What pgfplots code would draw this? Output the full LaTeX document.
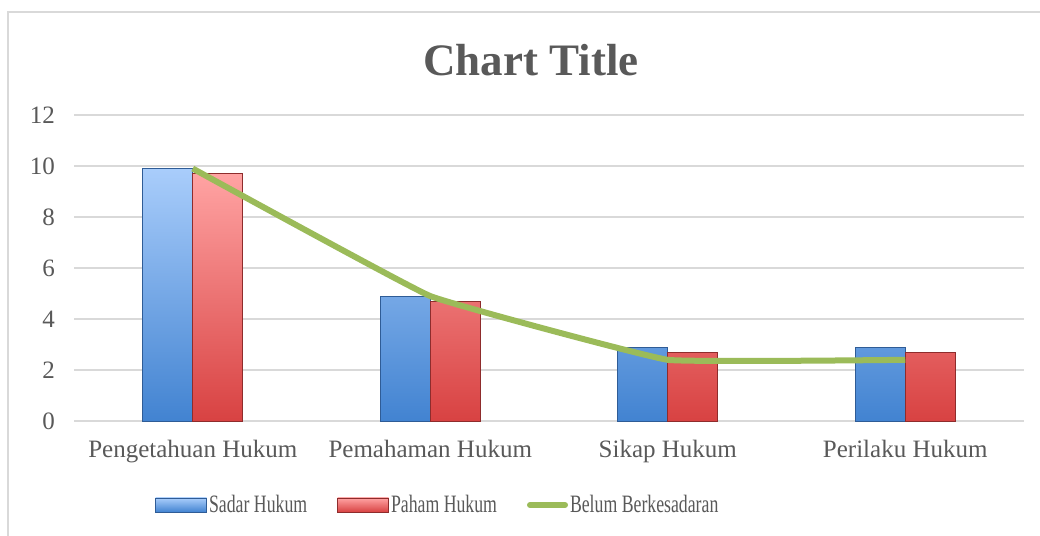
\documentclass[border=0pt]{standalone}
\usepackage{pgfplots}
\pgfplotsset{compat=1.18}
\usepackage{fontspec}
\setmainfont{Liberation Serif}
\definecolor{txt}{HTML}{595959}
\definecolor{gridc}{HTML}{D9D9D9}
\definecolor{bluet}{HTML}{A9CDFB}
\definecolor{blueb}{HTML}{4283D1}
\definecolor{bluee}{HTML}{2F5C96}
\definecolor{redt}{HTML}{FFA3A3}
\definecolor{redb}{HTML}{D84242}
\definecolor{rede}{HTML}{8E2C2C}
\definecolor{grn}{HTML}{9BBB59}
\begin{document}
\begin{tikzpicture}
\path[use as bounding box] (0,0) rectangle (520pt,268pt);
\draw[gridc, line width=0.8pt] (4pt,0pt) -- (4pt,262pt) -- (520pt,262pt);
\node[font=\bfseries\fontsize{22.5}{26}\selectfont, text=txt] at (265.5pt,238pt) {Chart Title};
\begin{axis}[
  at={(37pt,57.5pt)}, anchor=south west,
  scale only axis, width=475pt, height=153pt,
  xmin=-0.5, xmax=3.5, ymin=0, ymax=12,
  ytick={0,2,...,12},
  xtick={0,1,2,3},
  xticklabels={Pengetahuan Hukum, Pemahaman Hukum, Sikap Hukum, Perilaku Hukum},
  ymajorgrids, grid style={gridc, line width=0.6pt},
  axis line style={draw=none}, major tick style={draw=none},
  ticklabel style={font=\fontsize{12.5}{15}\selectfont, text=txt},
  /pgf/number format/assume math mode=true,
  yticklabel style={xshift=-6pt},
  xticklabel style={yshift=-6pt},
  clip=false,
  legend columns=3,
  legend style={at={(0.383,-0.2745)}, anchor=center, draw=none, fill=none,
    font=\fontsize{12.5}{14}\selectfont, text=txt,
    nodes={inner sep=1pt},
    /tikz/every even column/.append style={column sep=14pt}},
  legend cell align=left,
]
\addplot[ybar, bar width=25pt, bar shift=-12.5pt, draw=bluee, line width=0.4pt,
  top color=bluet, bottom color=blueb,
  legend image code/.code={\draw[draw=bluee, line width=0.4pt, top color=bluet, bottom color=blueb] (0pt,-3.5pt) rectangle (25.5pt,3.5pt);}]
  coordinates {(0,9.9) (1,4.9) (2,2.9) (3,2.9)};
\addlegendentry{\scalebox{0.71}[1]{Sadar Hukum}}
\addplot[ybar, bar width=25pt, bar shift=12.5pt, draw=rede, line width=0.4pt,
  top color=redt, bottom color=redb,
  legend image code/.code={\draw[draw=rede, line width=0.4pt, top color=redt, bottom color=redb] (0pt,-3.5pt) rectangle (25.5pt,3.5pt);}]
  coordinates {(0,9.7) (1,4.7) (2,2.7) (3,2.7)};
\addlegendentry{\scalebox{0.71}[1]{Paham Hukum}}
\addplot[grn, line width=3pt, line join=round, mark=none, smooth, tension=0.15,
  legend image code/.code={\draw[grn, line width=3pt, line cap=round] (1.5pt,0pt) -- (19pt,0pt);}]
  coordinates {(0,9.9) (1,4.9) (2,2.4) (3,2.4)};
\addlegendentry{\scalebox{0.71}[1]{Belum Berkesadaran}}
\end{axis}
\end{tikzpicture}
\end{document}
